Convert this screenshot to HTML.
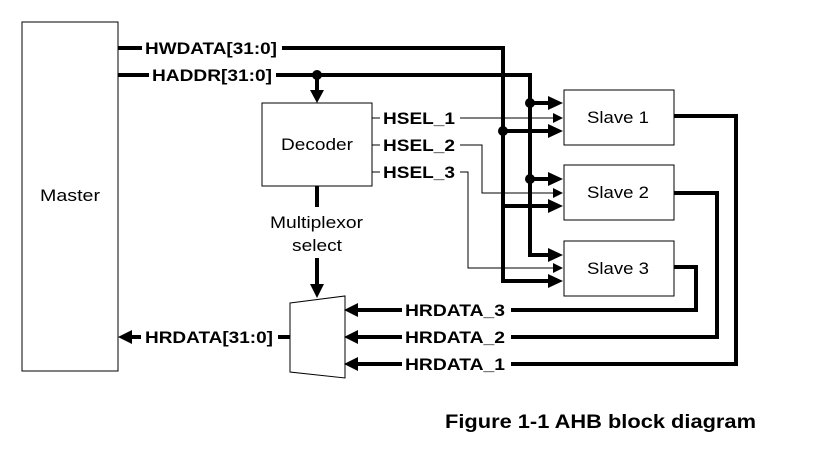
<!DOCTYPE html><html><head><style>body{margin:0;background:#fff}svg{display:block}text{font-family:"Liberation Sans",Arial,sans-serif;fill:#000}.b{font-weight:bold;font-size:17px}.n{font-size:17px}</style></head><body>
<svg width="831" height="451" viewBox="0 0 831 451">
<g fill="none" stroke="#000">
<rect x="22" y="22" width="96" height="349" stroke-width="1"/>
<rect x="262" y="103" width="110" height="83"/>
<rect x="564" y="90" width="110" height="55"/>
<rect x="564" y="165" width="110" height="55"/>
<rect x="564" y="241" width="110" height="55"/>
<path d="M290,303 L345,296 L345,378 L290,372 z" fill="#fff"/>
<g stroke-width="4">
<path d="M118,48 H142 M282,48 H503 V281 H548" />
<path d="M118,75 H149 M276,75 H530 V255 H548"/>
<path d="M530,103 H548 M530,179 H548 M503,131 H548 M503,206 H548" />
<path d="M317,75 V90"/>
<path d="M317,186 V207 M317,258 V284"/>
<path d="M674,116 H736 V364 H511"/>
<path d="M674,193 H717 V337 H511"/>
<path d="M674,267 H696 V310 H511"/>
<path d="M402,310 H358 M402,337 H358 M402,364 H358"/>
<path d="M290,337 H278 M141,337 H130"/>
</g>
<g stroke-width="1">
<path d="M372,118 H380 M460,118 H556"/>
<path d="M372,145 H380 M460,145 H482 V193 H556"/>
<path d="M372,172 H380 M460,172 H468 V268 H556"/>
</g>
</g>
<g fill="#000">
<path d="M548,96 L563,103 L548,110z M548,124 L563,131 L548,138z M548,172 L563,179 L548,186z M548,199 L563,206 L548,213z M548,248 L563,255 L548,262z M548,274 L563,281 L548,288z"/>
<path d="M553,113 L563,118 L553,123z M553,188 L563,193 L553,198z M553,263 L563,268 L553,273z"/>
<path d="M310,90 L324,90 L317,103z M310,284 L324,284 L317,298z"/>
<path d="M358,303 L344,310 L358,317z M358,330 L344,337 L358,344z M358,357 L344,364 L358,371z"/>
<path d="M132,330 L118,337 L132,344z"/>
<circle cx="317" cy="75" r="5"/><circle cx="530" cy="103" r="5"/><circle cx="503" cy="131" r="5"/><circle cx="530" cy="179" r="5"/>
</g>
<text class="n" x="40" y="201" textLength="60" lengthAdjust="spacingAndGlyphs">Master</text>
<text class="n" x="281" y="150" textLength="72" lengthAdjust="spacingAndGlyphs">Decoder</text>
<text class="n" x="587" y="123" textLength="62" lengthAdjust="spacingAndGlyphs">Slave 1</text>
<text class="n" x="587" y="198" textLength="62" lengthAdjust="spacingAndGlyphs">Slave 2</text>
<text class="n" x="587" y="274" textLength="62" lengthAdjust="spacingAndGlyphs">Slave 3</text>
<text class="n" x="270" y="228" textLength="93" lengthAdjust="spacingAndGlyphs">Multiplexor</text>
<text class="n" x="292" y="251" textLength="50" lengthAdjust="spacingAndGlyphs">select</text>
<text class="b" x="145" y="54" textLength="132" lengthAdjust="spacingAndGlyphs">HWDATA[31:0]</text>
<text class="b" x="152" y="81" textLength="120" lengthAdjust="spacingAndGlyphs">HADDR[31:0]</text>
<text class="b" x="383" y="124" textLength="72" lengthAdjust="spacingAndGlyphs">HSEL_1</text>
<text class="b" x="383" y="151" textLength="72" lengthAdjust="spacingAndGlyphs">HSEL_2</text>
<text class="b" x="383" y="178" textLength="72" lengthAdjust="spacingAndGlyphs">HSEL_3</text>
<text class="b" x="405" y="316" textLength="100" lengthAdjust="spacingAndGlyphs">HRDATA_3</text>
<text class="b" x="405" y="343" textLength="100" lengthAdjust="spacingAndGlyphs">HRDATA_2</text>
<text class="b" x="405" y="370" textLength="100" lengthAdjust="spacingAndGlyphs">HRDATA_1</text>
<text class="b" x="145" y="343" textLength="128" lengthAdjust="spacingAndGlyphs">HRDATA[31:0]</text>
<text class="b" x="445" y="428" style="font-size:19px" textLength="311" lengthAdjust="spacingAndGlyphs">Figure 1-1 AHB block diagram</text>
</svg></body></html>
